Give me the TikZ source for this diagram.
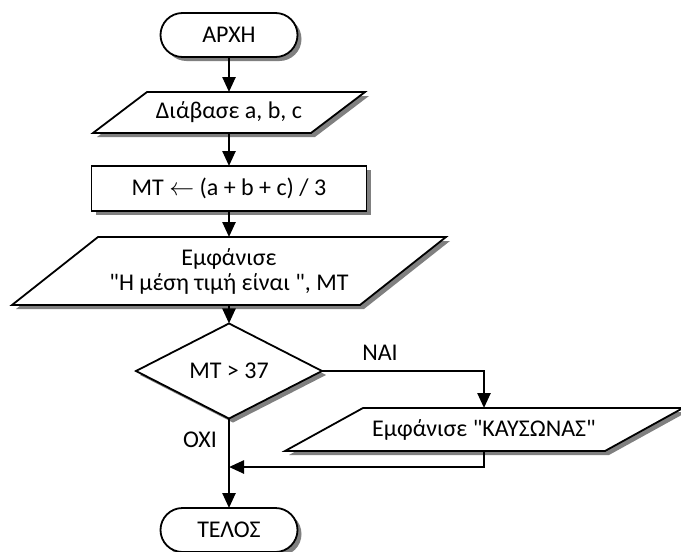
\documentclass[tikz,border=0pt]{standalone}
\usepackage{fontspec}
\setmainfont{Carlito}[Ligatures=TeXReset]
\usetikzlibrary{arrows.meta,shapes.geometric,shapes.misc,shadows}
\definecolor{shadowgray}{RGB}{128,128,128}
\newcommand\mypara[7]{%
  % #1 name, #2 cx, #3 cy, #4 mid width, #5 height, #6 slant, #7 text
  \fill[shadowgray]
    ({#2-#4/2-#6/2+4},{#3+#5/2+4}) -- ({#2+#4/2-#6/2+4},{#3+#5/2+4}) --
    ({#2+#4/2+#6/2+4},{#3-#5/2+4}) -- ({#2-#4/2+#6/2+4},{#3-#5/2+4}) -- cycle;
  \draw[shapeline]
    ({#2-#4/2-#6/2},{#3+#5/2}) -- ({#2+#4/2-#6/2},{#3+#5/2}) --
    ({#2+#4/2+#6/2},{#3-#5/2}) -- ({#2-#4/2+#6/2},{#3-#5/2}) -- cycle;
  \node[textbox,minimum width=#4,minimum height=#5] (#1) at (#2,#3) {#7};
}
\begin{document}
\begin{tikzpicture}[x=1pt,y=-1pt,
  font=\fontsize{24}{25}\selectfont,
  shapeline/.style={draw=black,line width=1.8pt,fill=white,line join=miter},
  boxshadow/.style={drop shadow={shadow xshift=4pt,shadow yshift=-4pt,fill=shadowgray,opacity=1}},
  textbox/.style={inner sep=0pt,outer sep=0pt,align=center},
  terminal/.style={rounded rectangle,shapeline,boxshadow,minimum width=137pt,minimum height=44pt,inner sep=0pt,outer sep=0pt},
  process/.style={rectangle,shapeline,boxshadow,minimum width=275pt,minimum height=45pt,inner sep=0pt,outer sep=0pt},
  decision/.style={diamond,shapeline,boxshadow,minimum width=186pt,minimum height=77pt,inner sep=0pt,outer sep=0pt},
  flow/.style={line width=2.5pt,-{Triangle[length=15pt,width=13pt]}},
  lbl/.style={inner sep=0pt},
]
\useasboundingbox (0,0) rectangle (681,552);

\node[terminal] (start) at (229,35) {ΑΡΧΗ};
\mypara{read}{229}{112.5}{218}{41}{54}{Διάβασε a, b, c}
\node[process] (calc) at (229,188.5) {ΜΤ $\leftarrow$ (a + b + c) / 3};
\mypara{show}{229}{271}{348}{68}{86}{Εμφάνισε\\ "Η μέση τιμή είναι ", ΜΤ}
\node[decision] (dec) at (229,371) {ΜΤ > 37};
\mypara{hot}{484}{429.5}{320}{43}{78}{Εμφάνισε "ΚΑΥΣΩΝΑΣ"}
\node[terminal] (end) at (229,530) {ΤΕΛΟΣ};

\coordinate (join) at (229,467);

\draw[flow] (start) -- (read);
\draw[flow] (read) -- (calc);
\draw[flow] (calc) -- (show);
\draw[flow] (show) -- (dec);
\draw[flow] (dec.east) -| (hot.north);
\draw[flow] (hot.south) |- (join);
\draw[flow] (dec.south) -- (end.north);

\node[lbl] (yes) at (380,353) {ΝΑΙ};
\node[lbl] (no) at (200,440) {ΟΧΙ};
\end{tikzpicture}
\end{document}
